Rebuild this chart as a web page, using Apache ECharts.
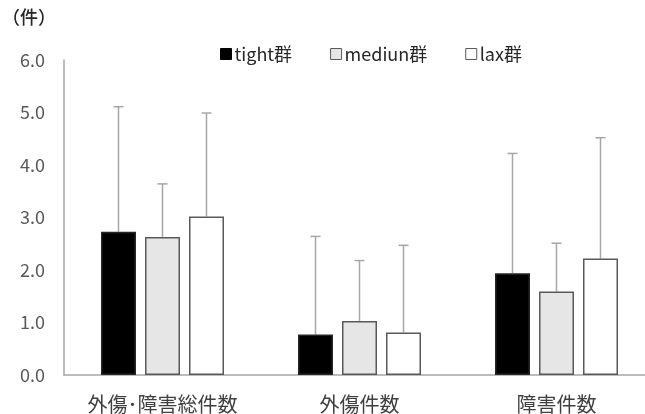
<!DOCTYPE html>
<html><head><meta charset="utf-8">
<script src="https://cdn.jsdelivr.net/npm/echarts@6/dist/echarts.min.js"></script>
<style>html,body{margin:0;padding:0;background:#fff;overflow:hidden;width:645px;height:414px}#c{width:660px;height:414px}</style>
</head><body><div id="c"></div>
<script>
const categories = ['外傷･障害総件数', '外傷件数', '障害件数'];
const seriesNames = ['tight群', 'mediun群', 'lax群'];
const tightMean = [2.73, 0.77, 1.94];
const mediunMean = [2.63, 1.03, 1.59];
const laxMean = [3.02, 0.81, 2.22];
const tightUpper = [5.11, 2.64, 4.22];
const mediunUpper = [3.64, 2.18, 2.51];
const laxUpper = [4.99, 2.47, 4.52];
const yTicks = [0, 1, 2, 3, 4, 5, 6];

const means = [tightMean, mediunMean, laxMean];
const uppers = [tightUpper, mediunUpper, laxUpper];
const fills = ['#000000', '#e6e6e6', '#ffffff'];
const BW = 35, GAP = 9;
const font = '"Noto Sans CJK JP", "Noto Sans", sans-serif';

const chart = echarts.init(document.getElementById('c'), null, {renderer: 'canvas'});
const series = [];
means.forEach((m, i) => {
  series.push({
    name: seriesNames[i], type: 'bar', data: m, barWidth: BW, barGap: (GAP / BW * 100) + '%',
    barCategoryGap: '37%',
    itemStyle: {color: fills[i], borderColor: i === 0 ? '#262626' : '#595959', borderWidth: 1.5},
    z: 2
  });
});
means.forEach((m, i) => {
  series.push({
    type: 'custom', silent: true, z: 1,
    data: m.map((v, k) => [k, v, uppers[i][k]]),
    renderItem: function (params, api) {
      const off = (i - 1) * (BW + GAP);
      const p0 = api.coord([api.value(0), api.value(1)]);
      const p1 = api.coord([api.value(0), api.value(2)]);
      const x = p0[0] + off;
      const st = {stroke: '#a6a6a6', lineWidth: 1.5};
      return {type: 'group', children: [
        {type: 'line', shape: {x1: x, y1: p0[1], x2: x, y2: p1[1]}, style: st},
        {type: 'line', shape: {x1: x - 5, y1: p1[1], x2: x + 5, y2: p1[1]}, style: st}
      ]};
    }
  });
});

chart.setOption({
  animation: false,
  textStyle: {fontFamily: font},
  grid: {left: 64, top: 60, width: 591, height: 316.7},
  legend: {
    data: seriesNames.map((n, i) => ({name: n, itemStyle: {color: fills[i], borderColor: i === 0 ? '#000' : '#595959', borderWidth: 1}})),
    left: 215, top: 40, icon: 'rect', itemWidth: 11, itemHeight: 11, itemGap: 38,
    textStyle: {fontSize: 18, color: '#262626', fontFamily: font, padding: [0, 0, 0, -2]}
  },
  xAxis: {
    type: 'category', data: categories,
    axisLine: {lineStyle: {color: '#a6a6a6', width: 1.5}},
    axisTick: {show: false},
    axisLabel: {fontSize: 20, color: '#404040', margin: 19, interval: 0}
  },
  yAxis: {
    type: 'value', min: yTicks[0], max: yTicks[yTicks.length - 1], interval: 1,
    axisLine: {show: true, lineStyle: {color: '#a6a6a6', width: 1.5}},
    axisTick: {show: false}, splitLine: {show: false},
    axisLabel: {fontSize: 18, color: '#595959', margin: 19, formatter: v => v.toFixed(1)}
  },
  graphic: [{type: 'text', left: 2, top: 8, style: {text: '（件）', fill: '#262626', font: '500 18px ' + font}}],
  series: series
});
</script></body></html>
